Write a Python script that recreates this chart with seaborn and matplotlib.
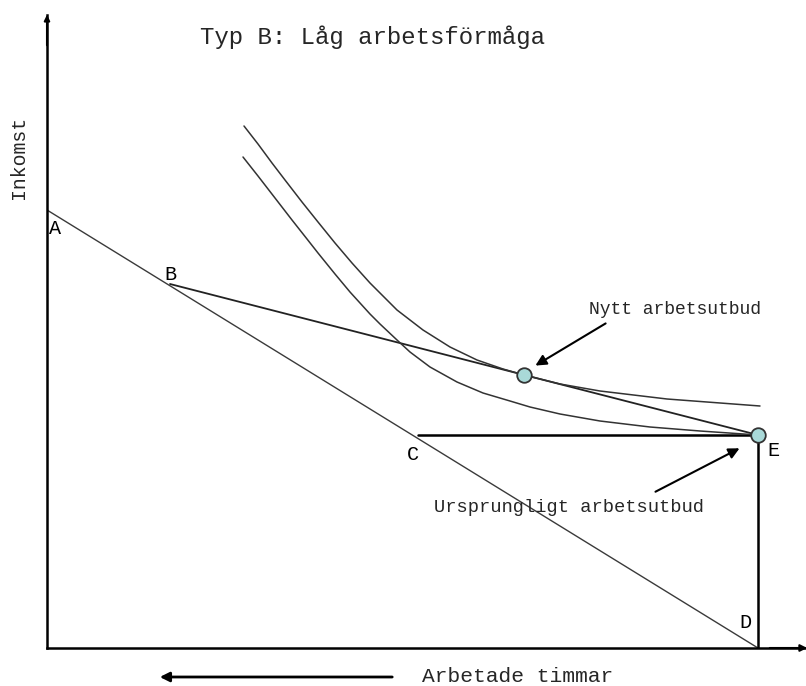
import matplotlib
matplotlib.use("Agg")
import matplotlib.pyplot as plt
import seaborn as sns

# ---- data (diagram units) ----
point_names = ["A", "B", "C", "D", "E"]
point_x = [0, 123, 371, 711, 711]
point_y = [438, 364, 213, 0, 213]
new_supply = (477, 273)          # "Nytt arbetsutbud"
orig_supply = (711, 213)         # "Ursprungligt arbetsutbud" (E)

upper_ic_x = [197, 211, 225, 238, 255, 271, 288, 305, 323, 350, 376, 403, 430, 456, 477, 513, 553, 620, 713]
upper_ic_y = [522, 504, 485, 468, 446, 426, 405, 385, 365, 338, 318, 301, 288, 279, 273, 264, 257, 249, 242]

lower_ic_x = [196, 211, 228, 245, 260, 271, 288, 303, 323, 333, 350, 363, 383, 410, 436, 463, 483, 513, 553, 603, 653, 711]
lower_ic_y = [491, 472, 450, 428, 409, 395, 374, 356, 334, 324, 308, 296, 281, 266, 255, 247, 241, 234, 227, 221, 217, 213]

label_pos_x = [8, 123, 366, 698, 726]
label_pos_y = [420, 373, 193, 26, 198]

title = "Typ B: Låg arbetsförmåga"
xlabel = "Arbetade timmar"
ylabel = "Inkomst"
new_label = "Nytt arbetsutbud"
orig_label = "Ursprungligt arbetsutbud"

sns.set_theme(style="white")
plt.rcParams["font.family"] = ["Liberation Mono", "DejaVu Sans Mono"]

W, H = 806, 686
fig = plt.figure(figsize=(W / 100, H / 100), dpi=100)
ax = fig.add_axes([47 / W, 38 / H, 759 / W, 633 / H])
ax.set_xlim(0, 759)
ax.set_ylim(0, 633)
for s in ["top", "right"]:
    ax.spines[s].set_visible(False)
for s in ["left", "bottom"]:
    ax.spines[s].set_color("black")
    ax.spines[s].set_linewidth(1.8)
ax.set_xticks([])
ax.set_yticks([])

P = dict(zip(point_names, zip(point_x, point_y)))

def seg(p, q, color, lw):
    sns.lineplot(x=[p[0], q[0]], y=[p[1], q[1]], ax=ax, color=color, lw=lw,
                 sort=False, estimator=None)

# budget lines
seg(P["A"], P["D"], "#3a3a3a", 1.0)
seg(P["B"], P["E"], "#222222", 1.3)
seg(P["C"], P["E"], "black", 1.8)
seg(P["E"], P["D"], "black", 1.8)

# indifference curves
for cx, cy in [(upper_ic_x, upper_ic_y), (lower_ic_x, lower_ic_y)]:
    sns.lineplot(x=cx, y=cy, ax=ax, color="#333333", lw=1.1,
                 sort=False, estimator=None, solid_joinstyle="round")

# points
sns.scatterplot(x=[new_supply[0], orig_supply[0]], y=[new_supply[1], orig_supply[1]],
                ax=ax, s=110, color="#a9d9d8", edgecolor="#333333", linewidth=1.3,
                zorder=5, clip_on=False)

# point labels
for n, lx, ly in zip(point_names, label_pos_x, label_pos_y):
    ax.text(lx, ly, n, fontsize=14.5, ha="center", va="center", color="black")

# annotations
arrow_kw = dict(arrowstyle="-|>", color="black", lw=1.5, mutation_scale=16)
ax.annotate("", xy=(486, 281), xytext=(561, 326), arrowprops=arrow_kw)
ax.text(628, 338, new_label, fontsize=13, ha="center", va="center")
ax.annotate("", xy=(695, 201), xytext=(606, 155), arrowprops=arrow_kw)
ax.text(522, 141, orig_label, fontsize=13.5, ha="center", va="center")

# title
ax.text(325, 611, title, fontsize=17.3, ha="center", va="center")

# axis arrows
ax.annotate("", xy=(0, 636), xytext=(0, 600), annotation_clip=False,
            arrowprops=dict(arrowstyle="-|>", color="black", lw=1.5, mutation_scale=8))
ax.annotate("", xy=(763, 0), xytext=(720, 0), annotation_clip=False,
            arrowprops=dict(arrowstyle="-|>", color="black", lw=1.5, mutation_scale=10))

# x label with leftward arrow
ax.annotate("", xy=(110, -29), xytext=(348, -29), annotation_clip=False,
            arrowprops=dict(arrowstyle="-|>", color="black", lw=2.0, mutation_scale=14))
ax.text(471, -29, xlabel, fontsize=15.3, ha="center", va="center", clip_on=False)

# y label
ax.text(-28, 491, ylabel, fontsize=14.3, ha="center", va="center", rotation=90, clip_on=False)

fig.savefig("out.png", dpi=100, facecolor="white")
